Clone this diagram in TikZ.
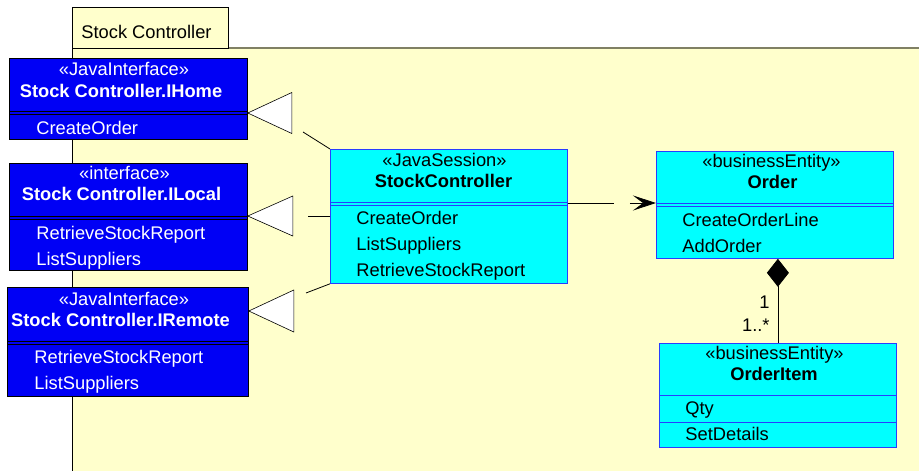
\documentclass[tikz,border=0pt]{standalone}
\usepackage{fontspec}
\setmainfont{Liberation Sans}
\usetikzlibrary{arrows.meta}
\definecolor{pkgyellow}{RGB}{255,255,204}
\definecolor{pkgedge}{RGB}{128,128,100}
\definecolor{ifblue}{RGB}{0,0,245}
\definecolor{clscyan}{RGB}{0,255,255}
\definecolor{clsedge}{RGB}{40,60,255}
\tikzset{
  txt/.style={inner sep=0pt, anchor=base, font=\fontsize{18.3}{22}\selectfont},
  stereo/.style={txt},
  clsname/.style={txt, font=\fontsize{18.3}{22}\selectfont\bfseries},
  op/.style={txt, anchor=base west},
  iface/.style={draw=black, fill=ifblue, inner sep=0pt, anchor=north west},
  cls/.style={draw=clsedge, fill=clscyan, inner sep=0pt, anchor=north west},
  realize/.style={draw=black, fill=white, line width=0.6pt}
}
\begin{document}
\begin{tikzpicture}[x=1pt, y=-1pt, line width=0.8pt]
  \clip (0,0) rectangle (919,471);
  \fill[pkgyellow] (72,48) rectangle (930,480);
  \draw[pkgedge, line width=1.3pt] (72,48) -- (930,48);
  \draw (72,480) -- (72,48);
  \draw[fill=pkgyellow] (72,48) rectangle (228,7);
  \node[op] (pkg) at (81,38) {Stock Controller};

  \node[iface, minimum width=238pt, minimum height=81pt] (ihome) at (9,58) {};
  \node[iface, minimum width=238pt, minimum height=107pt] (ilocal) at (9,163) {};
  \node[iface, minimum width=241pt, minimum height=109pt] (iremote) at (7,287) {};
  \foreach \y in {111,114} \draw (ihome.west |- 0,\y) -- (ihome.east |- 0,\y);
  \foreach \y in {216,219} \draw (ilocal.west |- 0,\y) -- (ilocal.east |- 0,\y);
  \foreach \y in {341,344} \draw (iremote.west |- 0,\y) -- (iremote.east |- 0,\y);

  \node[stereo, white] (ihome-st) at (124,75) {«JavaInterface»};
  \node[clsname, white] (ihome-nm) at (121,97) {Stock Controller.IHome};
  \node[op, white] (ihome-op0) at (36,134) {CreateOrder};
  \node[stereo, white] (ilocal-st) at (124.5,179) {«interface»};
  \node[clsname, white] (ilocal-nm) at (121.5,200) {Stock Controller.ILocal};
  \foreach \t [count=\i from 0] in {RetrieveStockReport,ListSuppliers}
    \node[op, white] (ilocal-op\i) at (36,239+26*\i) {\t};
  \node[stereo, white] (iremote-st) at (124,305) {«JavaInterface»};
  \node[clsname, white] (iremote-nm) at (120.5,326) {Stock Controller.IRemote};
  \foreach \t [count=\i from 0] in {RetrieveStockReport,ListSuppliers}
    \node[op, white] (iremote-op\i) at (34,363+26*\i) {\t};

  \node[cls, minimum width=237pt, minimum height=134pt] (ctrl) at (330,149) {};
  \node[cls, minimum width=237pt, minimum height=107pt] (order) at (656,151) {};
  \node[cls, minimum width=237pt, minimum height=104pt] (item) at (659,343) {};
  \foreach \y in {202,205} \draw[clsedge] (ctrl.west |- 0,\y) -- (ctrl.east |- 0,\y);
  \foreach \y in {203,206} \draw[clsedge] (order.west |- 0,\y) -- (order.east |- 0,\y);
  \foreach \y in {395,422} \draw[clsedge] (item.west |- 0,\y) -- (item.east |- 0,\y);

  \node[stereo] (ctrl-st) at (444.5,166) {«JavaSession»};
  \node[clsname] (ctrl-nm) at (443.5,187) {StockController};
  \foreach \t [count=\i from 0] in {CreateOrder,ListSuppliers,RetrieveStockReport}
    \node[op] (ctrl-op\i) at (356,224+26*\i) {\t};
  \node[stereo] (order-st) at (771.5,167) {«businessEntity»};
  \node[clsname] (order-nm) at (772.5,188) {Order};
  \foreach \t [count=\i from 0] in {CreateOrderLine,AddOrder}
    \node[op] (order-op\i) at (682,226+26*\i) {\t};
  \node[stereo] (item-st) at (774.5,359) {«businessEntity»};
  \node[clsname] (item-nm) at (774,380) {OrderItem};
  \foreach \t [count=\i from 0] in {Qty,SetDetails}
    \node[op] (item-op\i) at (685,414+26*\i) {\t};

  \draw[realize] (ihome.east |- 0,113) -- ++(44,-20.5) coordinate (ihome-tri) -- ++(0,41) -- cycle;
  \draw[realize] (ilocal.east |- 0,216) -- ++(45,-20) coordinate (ilocal-tri) -- ++(0,40) -- cycle;
  \draw[realize] (iremote.east |- 0,311) -- ++(45,-21) coordinate (iremote-tri) -- ++(0,42) -- cycle;
  \coordinate (ihome-end) at (303,132);
  \coordinate (ilocal-end) at (292,216);
  \coordinate (iremote-end) at (306,293);
  \draw (ctrl.north west) -- (ihome-end);
  \draw[dash pattern=on 22pt off 16pt] (ctrl.west |- ilocal-end) -- (ilocal-end);
  \draw (ctrl.south west) -- (iremote-end);

  \draw[-{Stealth[length=23pt, width=15pt, inset=10pt]}, dash pattern=on 46pt off 16pt on 200pt]
    (ctrl.east |- 0,203) -- (order.west |- 0,203);
  \draw[-{Diamond[length=28pt, width=22pt]}] (item.north) -- (item.north |- order.south);
  \node[txt, anchor=base east] (mult-one) at (770,308) {1};
  \node[txt, anchor=base east] (mult-many) at (770,331) {1..*};
\end{tikzpicture}
\end{document}
